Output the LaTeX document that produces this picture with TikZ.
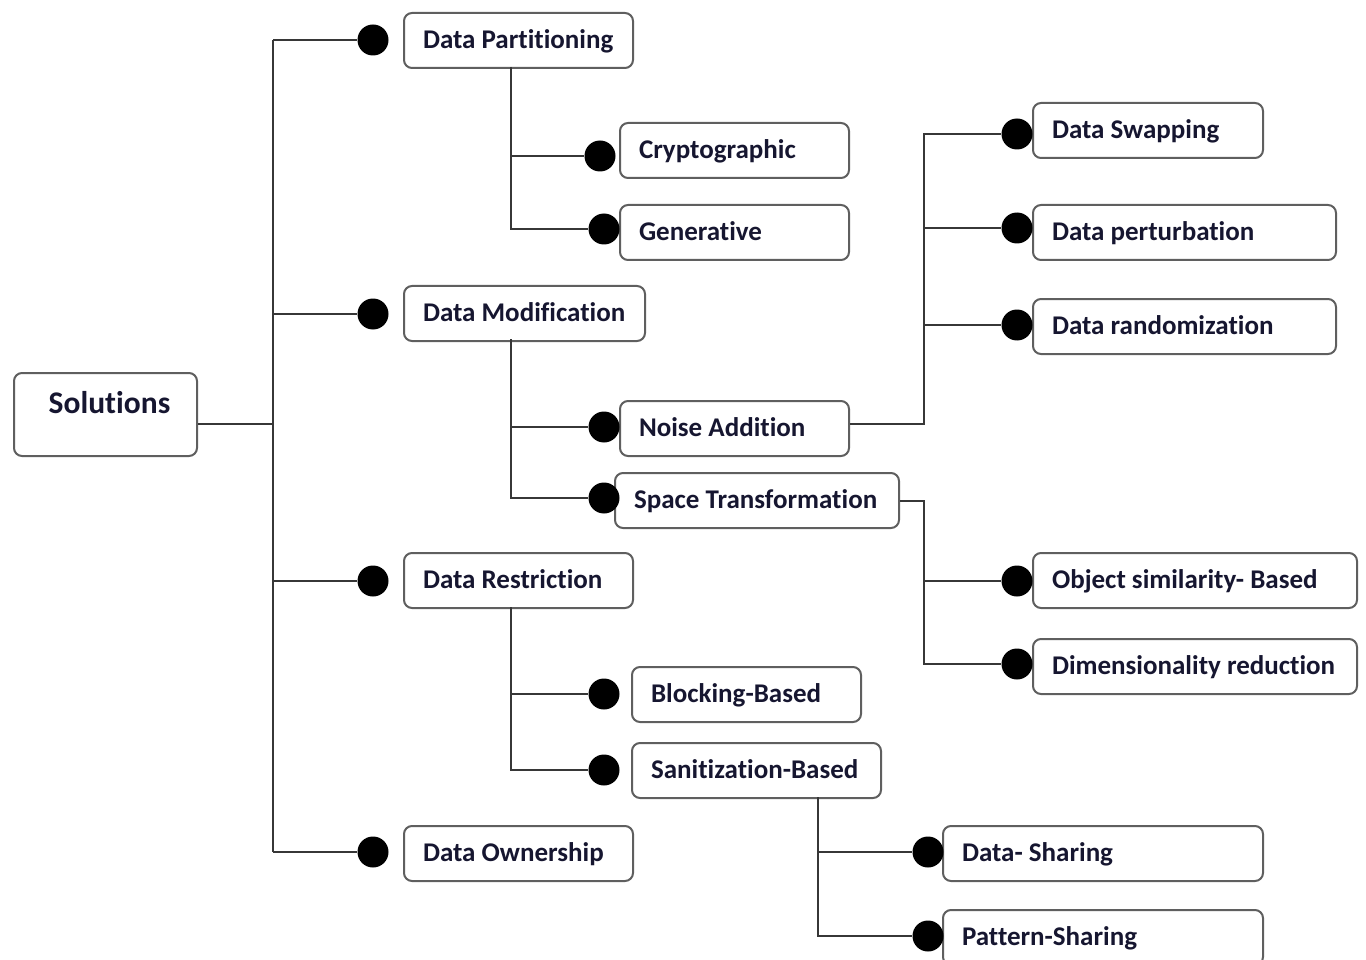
\documentclass[tikz,border=0pt]{standalone}
\usepackage{fontspec}
\setmainfont{Carlito}[Ligatures=NoCommon]
\definecolor{navy}{RGB}{22,22,48}
\definecolor{boxgray}{RGB}{95,95,95}
\definecolor{linegray}{RGB}{55,55,55}
\tikzset{
  box/.style={draw=boxgray, line width=2pt, rounded corners=8pt, fill=white,
    text=navy, font=\fontsize{27}{30}\selectfont\bfseries, inner xsep=19pt, inner ysep=0pt,
    text height=19pt, text depth=3pt, anchor=north west},
  dot/.style={circle, fill=black, inner sep=0pt, minimum size=31pt},
  conn/.style={draw=linegray, line width=2pt}
}
\newcommand\mkbox[6]{\node[box, minimum width=#4pt, minimum height=#5pt] (#1) at (#2,#3) {\makebox[\dimexpr#4pt-38pt\relax][l]{#6}};}
\begin{document}
\begin{tikzpicture}[x=1pt,y=-1pt]
\useasboundingbox (0,0) rectangle (1366,960);
% boxes
\node[box, anchor=center, minimum width=183pt, minimum height=83pt, inner xsep=0pt,
  font=\fontsize{31.5}{34}\selectfont\bfseries, text height=22pt, text depth=25pt] (sol) at (105.5,414.5) {\hspace{8pt}Solutions};
\mkbox{dp}{403}{12}{229}{55}{Data Partitioning}
\mkbox{cr}{619}{122}{229}{55}{Cryptographic}
\mkbox{ge}{619}{204}{229}{55}{Generative}
\mkbox{dm}{403}{285}{241}{55}{Data Modification}
\mkbox{na}{619}{400}{229}{55}{Noise Addition}
\mkbox{st}{614}{472}{284}{55}{Space Transformation}
\mkbox{dr}{403}{552}{229}{55}{Data Restriction}
\mkbox{bb}{631}{666}{229}{55}{Blocking-Based}
\mkbox{sb}{631}{742}{249}{55}{Sanitization-Based}
\mkbox{do}{403}{825}{229}{55}{Data Ownership}
\mkbox{sw}{1032}{102}{230}{55}{Data Swapping}
\mkbox{pe}{1032}{204}{303}{55}{Data perturbation}
\mkbox{ra}{1032}{298}{303}{55}{Data randomization}
\mkbox{os}{1032}{552}{324}{55}{Object similarity- Based}
\mkbox{di}{1032}{638}{324}{55}{Dimensionality reduction}
\mkbox{ds}{942}{825}{320}{55}{Data- Sharing}
\mkbox{ps}{942}{909}{320}{55}{Pattern-Sharing}
% dots
\node[dot] (ddp) at (373,40) {};
\node[dot] (ddm) at (373,314) {};
\node[dot] (ddr) at (373,581) {};
\node[dot] (ddo) at (373,852) {};
\node[dot] (dcr) at (600,156) {};
\node[dot] (dge) at (604,229) {};
\node[dot] (dna) at (604,427) {};
\node[dot] (dst) at (604,498) {};
\node[dot] (dbb) at (604,694) {};
\node[dot] (dsb) at (604,770) {};
\node[dot] (dsw) at (1017,134) {};
\node[dot] (dpe) at (1017,228) {};
\node[dot] (dra) at (1017,325) {};
\node[dot] (dos) at (1017,581) {};
\node[dot] (ddi) at (1017,664) {};
\node[dot] (dds) at (928,852) {};
\node[dot] (dps) at (928,936) {};
% junction coordinates
\coordinate (t1) at (273,40);
\coordinate (t4) at (273,852);
\coordinate (s1) at ([yshift=-9.5pt]sol.east);
\coordinate (n1) at ([yshift=5pt]na.east);
\coordinate (p1) at (511,67);
\coordinate (p2) at (511,339);
\coordinate (p3) at (511,607);
\coordinate (v1) at (924,134);
\coordinate (v2) at (924,664);
\coordinate (v3) at (818,797);
% connectors
\draw[conn] (s1) -- (s1 -| t1);
\draw[conn] (t1) -- (t4);
\draw[conn] (t1) -- (ddp);
\draw[conn] (ddm -| t1) -- (ddm);
\draw[conn] (ddr -| t1) -- (ddr);
\draw[conn] (t4) -- (ddo);
\draw[conn] (p1) |- (dge);
\draw[conn] (dcr -| p1) -- (dcr);
\draw[conn] (p2) |- (dst);
\draw[conn] (dna -| p2) -- (dna);
\draw[conn] (p3) |- (dsb);
\draw[conn] (dbb -| p3) -- (dbb);
\draw[conn] (n1) -| (v1) -- (dsw);
\draw[conn] (dpe -| v1) -- (dpe);
\draw[conn] (dra -| v1) -- (dra);
\draw[conn] (st.east) -| (v2) -- (ddi);
\draw[conn] (dos -| v2) -- (dos);
\draw[conn] (v3) |- (dps);
\draw[conn] (dds -| v3) -- (dds);
\end{tikzpicture}
\end{document}
